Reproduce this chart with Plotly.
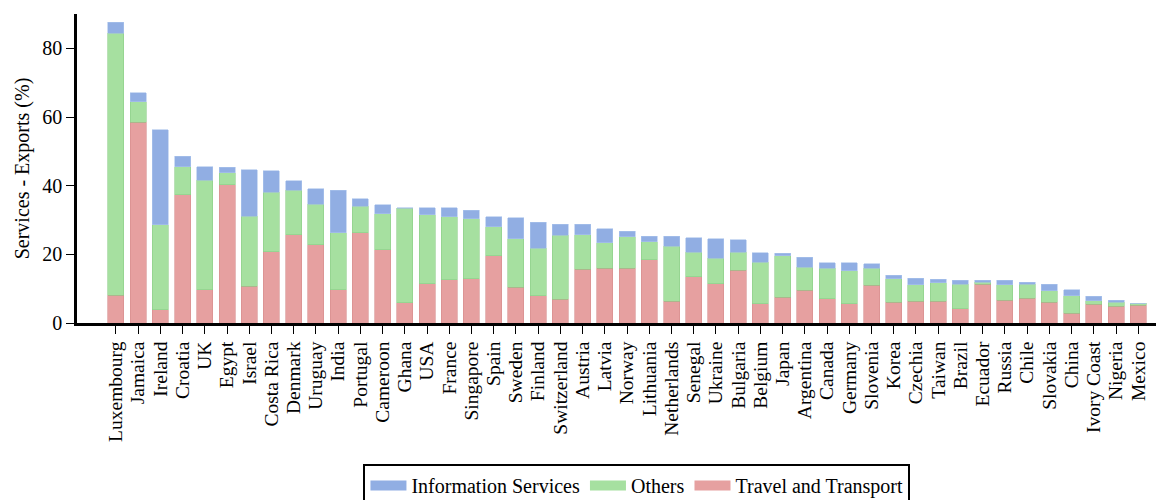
import plotly.graph_objects as go

countries = ["Luxembourg", "Jamaica", "Ireland", "Croatia", "UK", "Egypt", "Israel", "Costa Rica",
             "Denmark", "Uruguay", "India", "Portugal", "Cameroon", "Ghana", "USA", "France",
             "Singapore", "Spain", "Sweden", "Finland", "Switzerland", "Austria", "Latvia", "Norway",
             "Lithuania", "Netherlands", "Senegal", "Ukraine", "Bulgaria", "Belgium", "Japan",
             "Argentina", "Canada", "Germany", "Slovenia", "Korea", "Czechia", "Taiwan", "Brazil",
             "Ecuador", "Russia", "Chile", "Slovakia", "China", "Ivory Coast", "Nigeria", "Mexico"]

# cumulative tops: travel, travel+others, total
travel_top = [8.1, 58.5, 3.9, 37.3, 9.7, 40.3, 10.7, 20.8, 25.7, 22.8, 9.7, 26.3, 21.4, 5.9, 11.5, 12.6,
              12.9, 19.6, 10.4, 8.0, 6.9, 15.6, 15.9, 15.9, 18.4, 6.3, 13.5, 11.5, 15.3, 5.6, 7.5,
              9.5, 7.1, 5.6, 11.0, 6.0, 6.3, 6.3, 4.2, 11.3, 6.6, 7.2, 6.0, 2.8, 5.4, 4.9, 5.2]
others_top = [84.4, 64.5, 28.6, 45.5, 41.6, 43.7, 31.1, 38.1, 38.7, 34.6, 26.3, 34.0, 31.8, 33.4, 31.5, 31.0,
              30.3, 28.0, 24.5, 21.8, 25.5, 25.7, 23.4, 25.1, 23.7, 22.4, 20.6, 18.9, 20.6, 17.7, 19.6,
              16.3, 16.0, 15.2, 16.0, 12.9, 11.1, 11.7, 11.3, 11.9, 11.2, 11.3, 9.4, 7.9, 6.5, 6.1, 5.7]
total_top = [87.6, 67.0, 56.3, 48.5, 45.5, 45.3, 44.7, 44.4, 41.5, 39.1, 38.6, 36.2, 34.5, 33.6, 33.5, 33.5,
             32.8, 31.0, 30.7, 29.3, 28.7, 28.7, 27.5, 26.7, 25.2, 25.2, 24.9, 24.6, 24.2, 20.5, 20.3,
             19.1, 17.6, 17.6, 17.3, 13.9, 13.0, 12.7, 12.4, 12.4, 12.4, 11.8, 11.3, 9.7, 7.8, 6.6, 5.8]

travel = travel_top
others = [round(o - t, 2) for o, t in zip(others_top, travel_top)]
info = [round(a - o, 2) for a, o in zip(total_top, others_top)]

FONT = "Liberation Serif"
red = "rgb(230,160,160)"
green = "rgb(166,224,160)"
blue = "rgb(145,174,227)"

series = [("Travel and Transport", travel, red, "rgb(214,140,140)"),
          ("Others", others, green, "rgb(140,205,135)"),
          ("Information Services", info, blue, "rgb(170,195,235)")]

fig = go.Figure()
for name, vals, col, edge in series:
    fig.add_trace(go.Bar(x=countries, y=vals, name=name, showlegend=False,
                         marker=dict(color=col, line=dict(color=edge, width=0.6))))
# legend entries drawn as wide swatches
for name, vals, col, edge in series:
    fig.add_trace(go.Scatter(x=[None], y=[None], mode="lines", name=name,
                             line=dict(color=col, width=15)))

fig.update_layout(
    barmode="stack",
    bargap=0.28,
    width=1156, height=500,
    margin=dict(l=77, r=0, t=14, b=177),
    plot_bgcolor="white", paper_bgcolor="white",
    font=dict(family=FONT, size=20, color="black"),
    showlegend=True,
    legend=dict(orientation="h", traceorder="reversed",
                xref="container", yref="container",
                x=0.551, xanchor="center", y=1 - 464 / 500, yanchor="top",
                bordercolor="black", borderwidth=2,
                font=dict(family=FONT, size=20), itemwidth=36, tracegroupgap=0,
                bgcolor="white"),
    xaxis=dict(range=[-1.75, 46.8], showline=True, linecolor="black", linewidth=2.5,
               ticks="outside", ticklen=8, tickwidth=1, tickcolor="black", automargin=False,
               tickmode="array", tickvals=countries, ticktext=countries,
               tickangle=-90, tickfont=dict(family=FONT, size=19.5), showgrid=False),
    yaxis=dict(range=[0, 90], showline=True, linecolor="black", linewidth=2.5,
               ticks="outside", ticklen=8, tickwidth=1, tickcolor="black", automargin=False,
               tickvals=[0, 20, 40, 60, 80], tickfont=dict(family=FONT, size=20),
               showgrid=False, zeroline=False,
               title=dict(text="Services - Exports (%)", font=dict(family=FONT, size=20), standoff=8)),
)

fig.write_html("out.html")
